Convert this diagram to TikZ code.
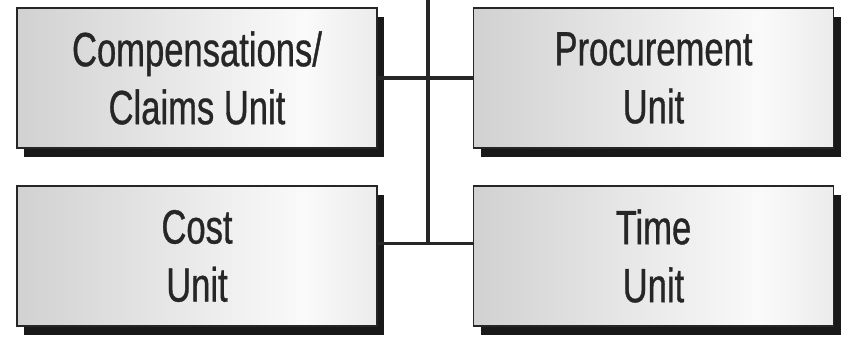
\documentclass[tikz,border=0pt]{standalone}
\usepackage{fontspec}
\setmainfont[FakeStretch=0.72,UprightFeatures={FakeBold=0.7}]{Liberation Sans}
\usetikzlibrary{shadows,positioning}
\pgfdeclarehorizontalshading{unitshade}{100bp}{color(0bp)=(black!22); color(25bp)=(black!18); color(65bp)=(black!2); color(100bp)=(black!22)}

\begin{document}
\begin{tikzpicture}[x=0.03cm, y=-0.03cm]
        \tikzset{
            unitbox/.style={
                    draw=black!85,
                    line width=1.6pt,
                    shading=unitshade,
                    minimum width=10.8cm,
                    minimum height=4.2cm,
                    align=center,
                    text=black!85,
                    font=\fontsize{41}{49.5}\selectfont,
                    drop shadow={shadow xshift=0.22cm, shadow yshift=-0.27cm, fill=black!90, opacity=1}
                },
            unitline/.style={line width=2.6pt, black!85}
        }
        \useasboundingbox (0,0) rectangle (844,338);
        \node[unitbox] (comp) at (197,78) {Compensations/\\Claims Unit};
        \node[unitbox] (proc) at (653.5,78) {Procurement\\Unit};
        \node[unitbox] (cost) at (197,256) {Cost\\Unit};
        \node[unitbox] (time) at (653.5,256) {Time\\Unit};
        \coordinate (top) at (428,0);
        \draw[unitline] (comp.east) -- (proc.west);
        \draw[unitline] ([yshift=0.38cm]cost.east) coordinate (low) -- ([yshift=0.38cm]time.west);
        \draw[unitline] (top) -- (top |- low);
        % \draw[unitline] (comp) -- (cost);
    \end{tikzpicture}
\end{document}
